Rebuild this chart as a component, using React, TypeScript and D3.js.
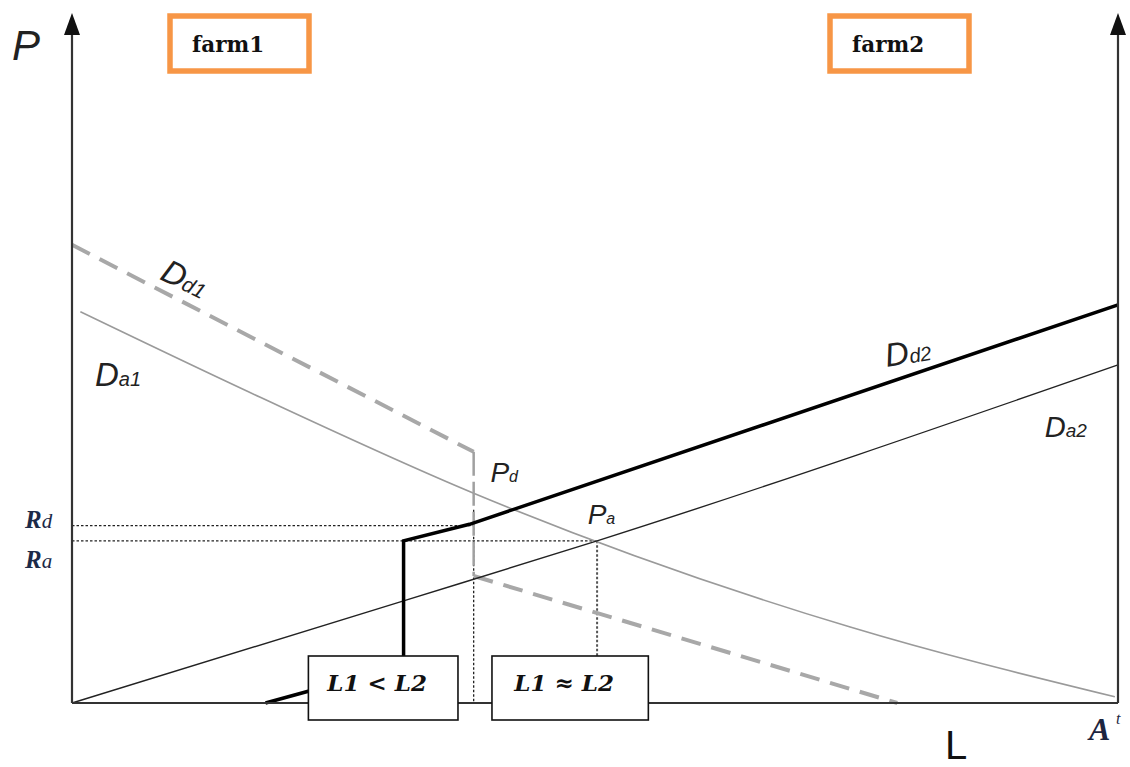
import React from 'react';
import * as d3 from 'd3';

// curves, in chart units (L: 0..100 across, P: 0..100 up)
const dd1Upper = [[0, 66.4], [38.4, 36.4]];
const dd1Step = [[38.4, 36.4], [38.4, 18.4]];
const dd1Lower = [[38.4, 18.4], [78.9, 0]];
const da1 = [[0.8, 56.7], [18, 44.3], [38.4, 30.4], [74.4, 11], [99.7, 0.9]];
const da2 = [[0, 0], [31.7, 14.8], [50.2, 23.5], [100, 49]];
const dd2 = [[18.5, 0], [31.7, 5.5], [31.7, 23.5], [38.0, 25.9], [100, 57.7]];

const Rd = 25.7;
const Ra = 23.5;
const Pd = { x: 38.4, y: 28 };
const Pa = { x: 50.2, y: 23.5 };

const boxes = [
  { text: 'L1 < L2', x0: 22.6, x1: 36.9 },
  { text: 'L1 ≈ L2', x0: 40.15, x1: 55.1 },
];
const farms = ['farm1', 'farm2'];

const W = 1130;
const H = 767;

export default function App() {
  const x = d3.scaleLinear().domain([0, 100]).range([72, 1118]);
  const y = d3.scaleLinear().domain([0, 100]).range([703, 13]);

  const straight = d3.line<number[]>().x(d => x(d[0])).y(d => y(d[1]));
  const smooth = d3.line<number[]>().x(d => x(d[0])).y(d => y(d[1])).curve(d3.curveMonotoneX);

  const sans = '"Liberation Sans", Arial, sans-serif';
  const serif = '"DejaVu Serif", serif';
  const tnr = '"Liberation Serif", serif';
  const arrow = (cx: number) => `M${cx},${y(100)} L${cx - 8},${y(100) + 22} L${cx + 8},${y(100) + 22} Z`;

  return (
    <svg width={W} height={H} style={{ position: 'absolute', left: 0, top: 0, background: '#fff' }}>
      {/* farm labels */}
      {farms.map((f, i) => {
        const bx = i === 0 ? 170 : 830;
        return (
          <g key={f}>
            <rect x={bx} y={16} width={139} height={55} fill="#fff" stroke="#f79646" strokeWidth={5.5} />
            <text x={bx + 22} y={52} fontFamily={serif} fontWeight="bold" fontSize={21.5} fill="#111">{f}</text>
          </g>
        );
      })}

      {/* dotted guides */}
      <g stroke="#222" strokeWidth={1.3} strokeDasharray="2.5,2" fill="none">
        <line x1={x(0)} x2={x(Pd.x)} y1={y(Rd)} y2={y(Rd)} />
        <line x1={x(0)} x2={x(Pa.x)} y1={y(Ra)} y2={y(Ra)} />
        <line x1={x(Pd.x)} x2={x(Pd.x)} y1={y(Pd.y)} y2={y(0)} />
        <line x1={x(Pa.x)} x2={x(Pa.x)} y1={y(Pa.y)} y2={y(0)} stroke="#555" strokeWidth={2} />
      </g>

      {/* curves */}
      <path d={smooth(da1) ?? ''} fill="none" stroke="#9a9a9a" strokeWidth={1.6} />
      <path d={straight(dd1Upper) ?? ''} fill="none" stroke="#a8a8a8" strokeWidth={4} strokeDasharray="20,11" />
      <path d={straight(dd1Step) ?? ''} fill="none" stroke="#a0a0a0" strokeWidth={2.5} strokeDasharray="24,6" />
      <path d={straight(dd1Lower) ?? ''} fill="none" stroke="#a8a8a8" strokeWidth={4} strokeDasharray="20,11" />
      <path d={smooth(da2) ?? ''} fill="none" stroke="#222" strokeWidth={1.4} />
      <path d={straight(dd2) ?? ''} fill="none" stroke="#000" strokeWidth={3.5} strokeLinejoin="miter" />

      {/* axes */}
      <g stroke="#333" strokeWidth={2.2} fill="none">
        <line x1={x(0)} x2={x(0)} y1={y(0)} y2={y(100) + 18} />
        <line x1={x(100)} x2={x(100)} y1={y(0)} y2={y(100) + 18} />
        <line x1={x(0)} x2={x(100)} y1={y(0)} y2={y(0)} />
      </g>
      <path d={arrow(x(0))} fill="#111" />
      <path d={arrow(x(100))} fill="#111" />

      {/* boxes */}
      {boxes.map(b => (
        <g key={b.text}>
          <rect x={x(b.x0)} y={656} width={x(b.x1) - x(b.x0)} height={64} fill="#fff" stroke="#111" strokeWidth={1.6} />
          <text x={(x(b.x0) + x(b.x1)) / 2 - 6} y={691} textAnchor="middle" fontFamily={serif}
            fontWeight="bold" fontStyle="italic" fontSize={23} fill="#111">{b.text}</text>
        </g>
      ))}

      {/* axis labels */}
      <text x={12} y={60} fontFamily={sans} fontStyle="italic" fontSize={42} fill="#222">P</text>
      <text x={945} y={759} fontFamily={sans} fontSize={40} fill="#111">L</text>
      <text x={1089} y={740} fontFamily={tnr} fontStyle="italic" fontWeight="bold" fontSize={32} fill="#1c2540">A</text>
      <text x={1116} y={724} fontFamily={tnr} fontStyle="italic" fontSize={16} fill="#1c2540">t</text>

      <text x={25} y={528} fontFamily={tnr} fontStyle="italic" fontSize={25} fill="#1c2a48">
        <tspan fontWeight="bold">R</tspan><tspan fontSize={21}>d</tspan>
      </text>
      <text x={25} y={568} fontFamily={tnr} fontStyle="italic" fontSize={25} fill="#1c2a48">
        <tspan fontWeight="bold">R</tspan><tspan fontSize={21}>a</tspan>
      </text>

      {/* curve labels */}
      <text transform={`translate(${x(8.3)},${y(61.5)}) rotate(26)`} fontFamily={sans} fontStyle="italic" fontSize={33} fill="#222">
        D<tspan fontSize={21}>d1</tspan>
      </text>
      <text x={x(2.2)} y={y(46)} fontFamily={sans} fontStyle="italic" fontSize={33} fill="#222">
        D<tspan fontSize={20}>a1</tspan>
      </text>
      <text transform={`translate(${x(77.9)},${y(48.7)}) rotate(-9)`} fontFamily={sans} fontStyle="italic" fontSize={33} fill="#222">
        D<tspan fontSize={20}>d2</tspan>
      </text>
      <text x={x(93)} y={y(38.5)} fontFamily={sans} fontStyle="italic" fontSize={29} fill="#222">
        D<tspan fontSize={19}>a2</tspan>
      </text>
      <text x={x(40)} y={y(32)} fontFamily={sans} fontStyle="italic" fontSize={28} fill="#222">
        P<tspan fontSize={16}>d</tspan>
      </text>
      <text x={x(49.3)} y={y(25.9)} fontFamily={sans} fontStyle="italic" fontSize={28} fill="#222">
        P<tspan fontSize={16}>a</tspan>
      </text>
    </svg>
  );
}
